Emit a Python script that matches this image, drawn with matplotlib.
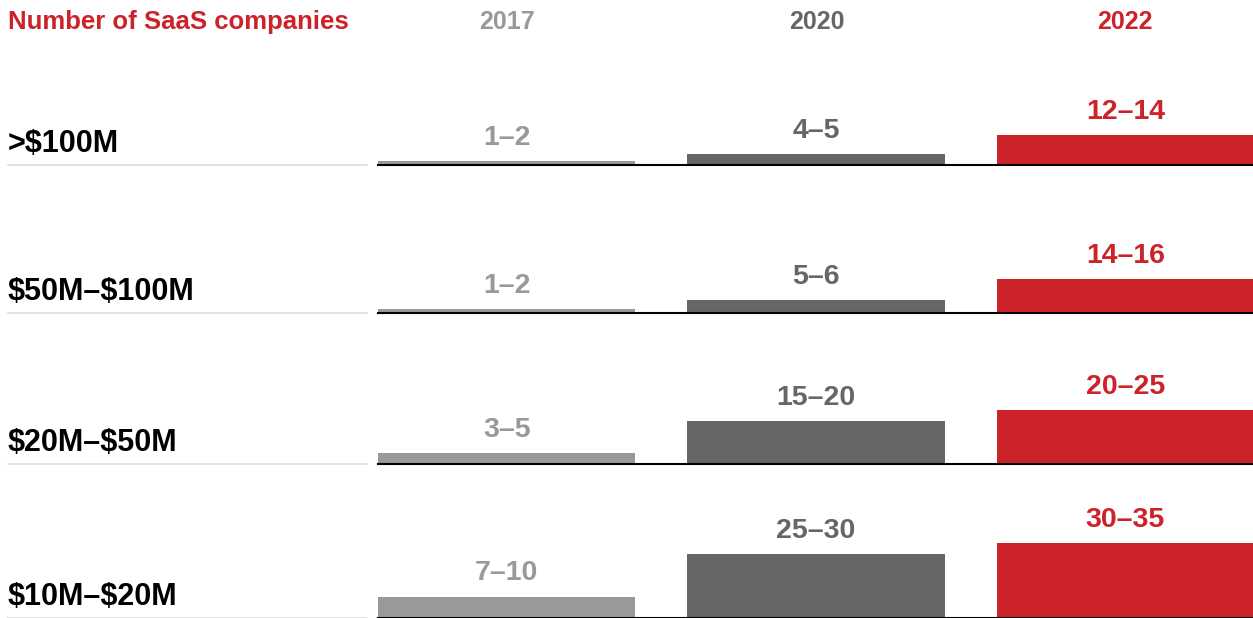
import matplotlib.pyplot as plt
from matplotlib.lines import Line2D

# company count ranges by revenue segment, one pair of lists per year
segments = [">$100M", "$50M–$100M", "$20M–$50M", "$10M–$20M"]
years = ["2017", "2020", "2022"]
low_2017 = [1, 1, 3, 7]
high_2017 = [2, 2, 5, 10]
low_2020 = [4, 5, 15, 25]
high_2020 = [5, 6, 20, 30]
low_2022 = [12, 14, 20, 30]
high_2022 = [14, 16, 25, 35]

year_colors = ["#999999", "#666666", "#CC2229"]
RED = "#CC2229"

W, H = 1253, 618
PX_PER_UNIT = 2.15
ROW_H = 120
baselines = [165, 313, 464, 618]

plt.rcParams["font.family"] = ["Liberation Sans", "DejaVu Sans"]
plt.rcParams["text.parse_math"] = False


def fx(x):
    return x / W


def fy(y):
    return 1 - y / H


fig = plt.figure(figsize=(W / 100, H / 100), dpi=100)

fig.text(fx(8), fy(22), "Number of SaaS companies", color=RED,
         fontsize=18.5, fontweight="bold", ha="left", va="center")

lows = [low_2017, low_2020, low_2022]
highs = [high_2017, high_2020, high_2022]

for i, (seg, base) in enumerate(zip(segments, baselines)):
    ax = fig.add_axes([fx(378), fy(base), 875 / W, ROW_H / H])
    ax.set_xlim(-0.416, 2.413)
    ax.set_ylim(0, ROW_H / PX_PER_UNIT)
    ax.axis("off")

    heights = [h[i] for h in highs]
    bars = ax.bar(range(3), heights, width=0.832, color=year_colors, zorder=2)
    for j, b in enumerate(bars):
        ax.annotate(f"{lows[j][i]}–{highs[j][i]}",
                    (b.get_x() + b.get_width() / 2, b.get_height()),
                    xytext=(0, 10), textcoords="offset pixels",
                    ha="center", va="bottom", color=year_colors[j],
                    fontsize=20.5, fontweight="bold")
    ax.axhline(0, color="black", lw=1.5, clip_on=False, zorder=3)

    # segment label with a light rule underneath
    fig.text(fx(8), fy(base - 13), seg, color="black", fontsize=22,
             fontweight="bold", ha="left", va="baseline")
    fig.add_artist(Line2D([fx(8), fx(367)], [fy(base), fy(base)],
                          color="#DDDDDD", lw=1.2))

# year headers above each column
col_centers = [507, 817, 1125]
for yr, cx, c in zip(years, col_centers, year_colors):
    fig.text(fx(cx), fy(22), yr, color=c, fontsize=18,
             fontweight="bold", ha="center", va="center")

fig.savefig("out.png", dpi=100)
